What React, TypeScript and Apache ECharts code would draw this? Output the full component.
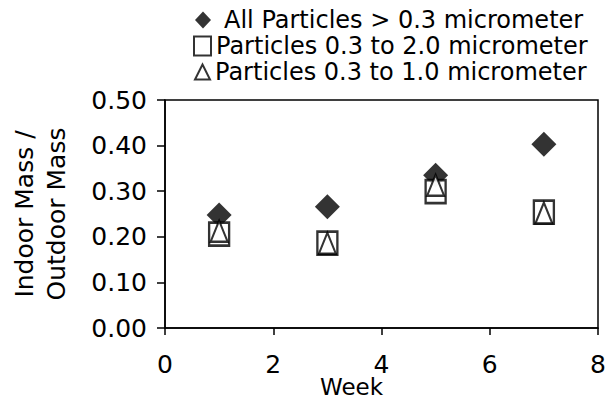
import React, { useEffect, useRef } from "react";
import * as echarts from "echarts";

const weeks = [1, 3, 5, 7];
const allParticles = [0.248, 0.266, 0.335, 0.403];
const particles20 = [0.206, 0.186, 0.299, 0.254];
const particles10 = [0.212, 0.186, 0.313, 0.252];
const seriesNames = [
  "All Particles > 0.3 micrometer",
  "Particles 0.3 to 2.0 micrometer",
  "Particles 0.3 to 1.0 micrometer",
];
const xTicks = { min: 0, max: 8, interval: 2 };
const yTicks = { min: 0, max: 0.5, interval: 0.1 };

const FONT = "DejaVu Sans";

export default function App() {
  const ref = useRef<HTMLDivElement>(null);
  useEffect(() => {
    if (!ref.current) return;
    const chart = echarts.init(ref.current, null, { renderer: "svg" });
    const pts = (ys: number[]) => weeks.map((w, i) => [w, ys[i]]);
    const legendText = { fontFamily: FONT, fontSize: 24, color: "#000", lineHeight: 22 };
    chart.setOption({
      animation: false,
      backgroundColor: "#fff",
      grid: {
        left: 165,
        right: 12,
        top: 100,
        bottom: 75,
        show: true,
        borderColor: "#000",
        borderWidth: 1.5,
        containLabel: false,
        outerBoundsMode: "none",
      },
      legend: [
        {
          data: [seriesNames[0]],
          left: 195,
          top: 8,
          itemWidth: 16,
          itemHeight: 17,
          selectedMode: false,
          padding: 0,
          textStyle: { ...legendText, padding: [0, 0, 0, 8] },
        },
        {
          data: [seriesNames[1]],
          left: 193,
          top: 34,
          itemWidth: 17,
          itemHeight: 19,
          selectedMode: false,
          padding: 0,
          textStyle: legendText,
        },
        {
          data: [seriesNames[2]],
          left: 194,
          top: 60,
          itemWidth: 15,
          itemHeight: 15,
          selectedMode: false,
          padding: 0,
          textStyle: legendText,
        },
      ],
      xAxis: {
        type: "value",
        min: xTicks.min,
        max: xTicks.max,
        interval: xTicks.interval,
        name: "Week",
        nameLocation: "middle",
        nameGap: 48,
        nameMoveOverlap: false,
        nameTextStyle: {
          fontFamily: FONT,
          fontSize: 23,
          color: "#000",
          lineHeight: 22,
          padding: [0, 60, 0, 0],
        },
        axisLine: { show: true, lineStyle: { color: "#000", width: 1.5 } },
        axisTick: { show: true, inside: false, length: 7, lineStyle: { color: "#000", width: 1.5 } },
        axisLabel: { fontFamily: FONT, fontSize: 25, color: "#000", margin: 24 },
        splitLine: { show: false },
      },
      yAxis: {
        type: "value",
        min: yTicks.min,
        max: yTicks.max,
        interval: yTicks.interval,
        name: "Indoor Mass /\nOutdoor Mass",
        nameLocation: "middle",
        nameRotate: 90,
        nameGap: 93,
        nameMoveOverlap: false,
        nameTextStyle: {
          fontFamily: FONT,
          fontSize: 25,
          color: "#000",
          lineHeight: 32,
        },
        axisLine: { show: true, lineStyle: { color: "#000", width: 1.5 } },
        axisTick: { show: true, inside: false, length: 8, lineStyle: { color: "#000", width: 1.5 } },
        axisLabel: {
          fontFamily: FONT,
          fontSize: 25,
          color: "#000",
          margin: 18,
          formatter: (v: number) => v.toFixed(2),
        },
        splitLine: { show: false },
      },
      series: [
        {
          name: seriesNames[0],
          type: "scatter",
          symbol: "diamond",
          symbolSize: 25,
          itemStyle: { color: "#000" },
          data: pts(allParticles),
        },
        {
          name: seriesNames[1],
          type: "scatter",
          symbol: "rect",
          symbolSize: [20, 23],
          itemStyle: { color: "#fff", borderColor: "#000", borderWidth: 2.5 },
          data: pts(particles20),
        },
        {
          name: seriesNames[2],
          type: "scatter",
          symbol: "triangle",
          symbolSize: [17, 21],
          itemStyle: { color: "#fff", borderColor: "#000", borderWidth: 2.2 },
          data: pts(particles10),
        },
      ],
    });
    return () => chart.dispose();
  }, []);
  return (
    <div
      ref={ref}
      style={{ position: "absolute", left: 0, top: 0, width: 610, height: 403 }}
    />
  );
}
